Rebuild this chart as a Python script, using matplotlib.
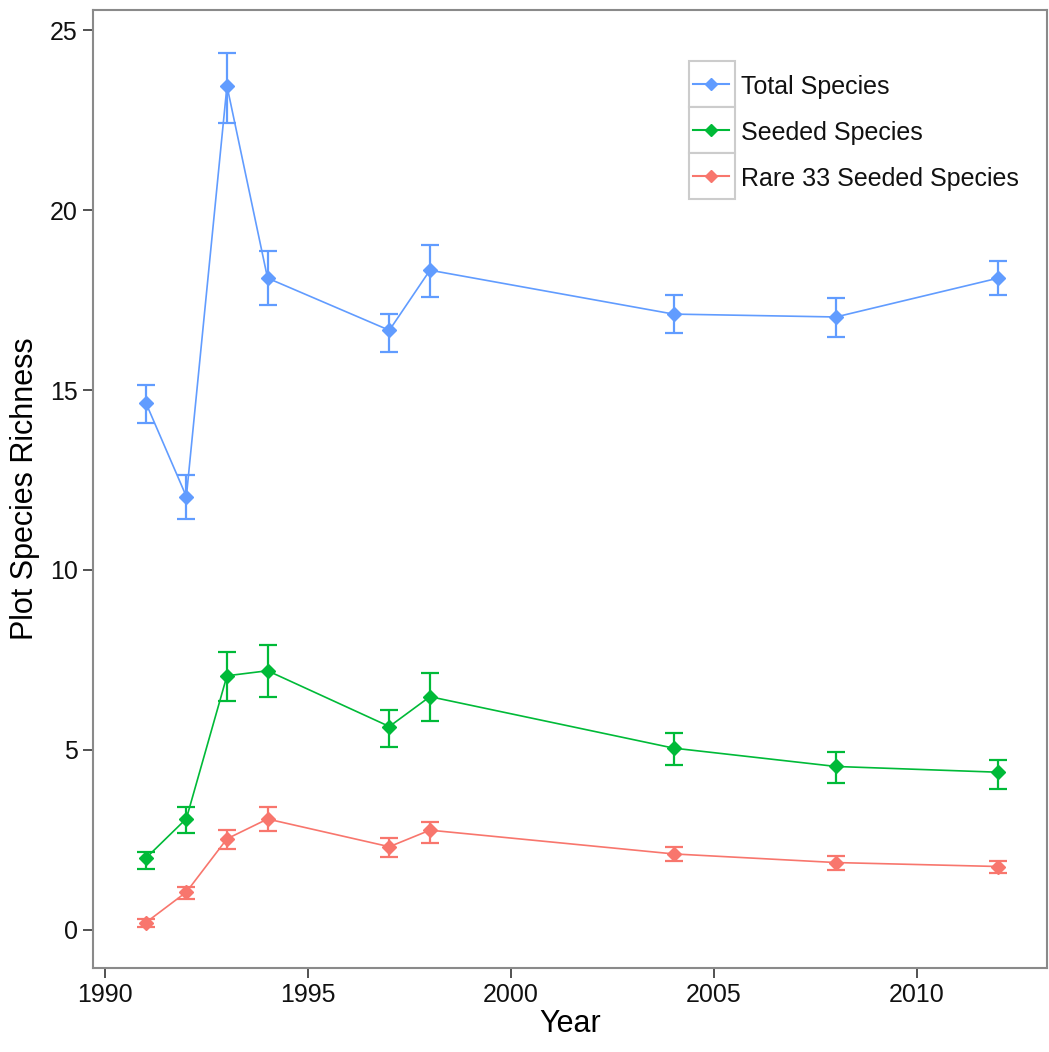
import matplotlib
matplotlib.use("Agg")
import matplotlib.pyplot as plt
from matplotlib.patches import Rectangle
from matplotlib.lines import Line2D

plt.rcParams['font.family'] = ['Liberation Sans', 'DejaVu Sans']

# Survey years and plot-level species richness (mean +/- error)
years = [1991, 1992, 1993, 1994, 1997, 1998, 2004, 2008, 2012]

total_mean = [14.65, 12.04, 23.45, 18.11, 16.66, 18.33, 17.11, 17.03, 18.11]
total_lo = [14.08, 11.42, 22.42, 17.36, 16.07, 17.59, 16.58, 16.47, 17.64]
total_hi = [15.14, 12.63, 24.36, 18.85, 17.12, 19.02, 17.64, 17.56, 18.58]

seeded_mean = [1.99, 3.09, 7.06, 7.20, 5.65, 6.48, 5.05, 4.54, 4.38]
seeded_lo = [1.69, 2.69, 6.35, 6.46, 5.07, 5.81, 4.57, 4.07, 3.91]
seeded_hi = [2.17, 3.41, 7.73, 7.91, 6.12, 7.13, 5.46, 4.95, 4.73]

rare_mean = [0.20, 1.05, 2.53, 3.08, 2.31, 2.77, 2.11, 1.87, 1.76]
rare_lo = [0.09, 0.85, 2.24, 2.75, 2.02, 2.41, 1.90, 1.67, 1.57]
rare_hi = [0.29, 1.18, 2.78, 3.40, 2.55, 3.00, 2.30, 2.06, 1.90]

labels = ["Total Species", "Seeded Species", "Rare 33 Seeded Species"]
colors = ["#619CFF", "#00BA38", "#F8766D"]

x_ticks = [1990, 1995, 2000, 2005, 2010]
y_ticks = [0, 5, 10, 15, 20, 25]

series = [
    (total_mean, total_lo, total_hi),
    (seeded_mean, seeded_lo, seeded_hi),
    (rare_mean, rare_lo, rare_hi),
]

fig = plt.figure(figsize=(10.49, 10.52), dpi=100)
ax = fig.add_axes([93 / 1049, 84 / 1052, 954 / 1049, 958 / 1052])

for (mean, lo, hi), col in zip(series[::-1], colors[::-1]):
    err = [[m - l for m, l in zip(mean, lo)], [h - m for m, h in zip(mean, hi)]]
    ax.errorbar(years, mean, yerr=err, color=col, lw=1.2, marker='D', ms=7.5,
                elinewidth=1.6, capsize=6.5, capthick=1.6)

ax.set_xlim(1989.7, 2013.2)
ax.set_ylim(-1.06, 25.56)
ax.set_xticks(x_ticks)
ax.set_yticks(y_ticks)
ax.tick_params(labelsize=18, length=7, width=1.2, pad=4, colors='#333333',
               labelcolor='#111111')
for sp in ax.spines.values():
    sp.set_color('#8a8a8a')
    sp.set_linewidth(1.5)

ax.set_xlabel("Year", fontsize=22, labelpad=1)
ax.set_ylabel("Plot Species Richness", fontsize=22, labelpad=7)

# legend with boxed keys, placed in figure pixel units
for i, (lab, col) in enumerate(zip(labels, colors)):
    top = 1052 - 61 - i * 46
    fig.patches.append(Rectangle((689 / 1049, (top - 46) / 1052), 46 / 1049, 46 / 1052,
                                 transform=fig.transFigure, facecolor='white',
                                 edgecolor='#cccccc', lw=1.5))
    yc = (top - 23) / 1052
    fig.lines.append(Line2D([693 / 1049, 729 / 1049], [yc, yc], transform=fig.transFigure,
                            color=col, lw=1.5, marker=None))
    fig.lines.append(Line2D([711 / 1049], [yc], transform=fig.transFigure,
                            color=col, marker='D', ms=6))
    fig.text(741 / 1049, yc - 3 / 1052, lab, fontsize=18, va='center', ha='left',
             color='#111111')

fig.savefig("out.png", dpi=100)
